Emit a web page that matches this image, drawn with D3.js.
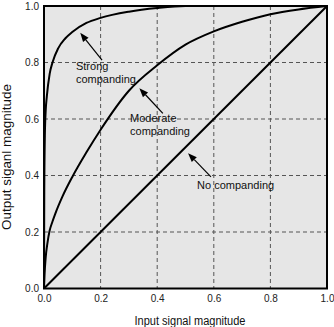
<!DOCTYPE html>
<html><head><meta charset="utf-8">
<script src="https://cdn.jsdelivr.net/npm/d3@7"></script>
<style>body{margin:0;background:#fff}svg{display:block}text{font-family:"Liberation Sans",Arial,sans-serif}</style>
</head><body>
<script>
const strongX = [0,0.001,0.003,0.006,0.01,0.02,0.03,0.05,0.075,0.1,0.15,0.2,0.3,0.4,0.5,0.7,1.0];
const strongY = [0,0.35,0.54,0.63,0.68,0.76,0.80,0.85,0.885,0.908,0.94,0.958,0.98,0.993,1.0,1.0,1.0];
const moderateX = [0,0.002,0.006,0.012,0.02,0.03,0.04,0.065,0.1,0.15,0.2,0.3,0.4,0.5,0.6,0.7,0.8,0.9,1.0];
const moderateY = [0,0.05,0.11,0.16,0.205,0.237,0.265,0.325,0.395,0.482,0.562,0.7,0.79,0.863,0.91,0.944,0.971,0.988,1.0];
const noneX = [0,1];
const noneY = [0,1];
const ticks = [0,0.2,0.4,0.6,0.8,1.0];
const tickLabels = ["0.0","0.2","0.4","0.6","0.8","1.0"];
const labels = [
  {lines:["Strong","companding"], at:[0.113,0.775], tip:[0.128,0.905], tail:[0.205,0.808]},
  {lines:["Moderate","companding"], at:[0.304,0.59], tip:[0.337,0.709], tail:[0.42,0.62]},
  {lines:["No companding"], at:[0.541,0.352], tip:[0.509,0.479], tail:[0.59,0.395]}
];

const W=334,H=327, L=44, R=327, T=6, B=288.5;
const svg=d3.select("body").append("svg").attr("width",W).attr("height",H);
const x=d3.scaleLinear().domain([0,1]).range([L,R]);
const y=d3.scaleLinear().domain([0,1]).range([B,T]);

svg.append("rect").attr("x",L).attr("y",T).attr("width",R-L).attr("height",B-T).attr("fill","#e6e6e6");
svg.append("clipPath").attr("id","c").append("rect").attr("x",L).attr("y",T).attr("width",R-L).attr("height",B-T);

const g=svg.append("g");
ticks.slice(1,-1).forEach(t=>{
  g.append("line").attr("x1",x(t)).attr("x2",x(t)).attr("y1",T).attr("y2",B)
   .attr("stroke","#555").attr("stroke-width",1).attr("stroke-dasharray","4,3");
  g.append("line").attr("y1",y(t)).attr("y2",y(t)).attr("x1",L).attr("x2",R)
   .attr("stroke","#555").attr("stroke-width",1).attr("stroke-dasharray","4,3");
});

const line=d3.line().x(d=>x(d[0])).y(d=>y(d[1])).curve(d3.curveMonotoneX);
const curves=[[strongX,strongY],[moderateX,moderateY],[noneX,noneY]];
const cg=svg.append("g").attr("clip-path","url(#c)");
curves.forEach(([xs,ys])=>{
  cg.append("path").datum(xs.map((v,i)=>[v,ys[i]])).attr("d",line)
    .attr("fill","none").attr("stroke","#000").attr("stroke-width",2);
});

svg.append("rect").attr("x",L).attr("y",T).attr("width",R-L).attr("height",B-T)
  .attr("fill","none").attr("stroke","#000").attr("stroke-width",2);

const xa=d3.axisBottom(x).tickValues(ticks).tickFormat((d,i)=>tickLabels[i]).tickSize(0).tickPadding(6);
const ya=d3.axisLeft(y).tickValues(ticks).tickFormat((d,i)=>tickLabels[i]).tickSize(0).tickPadding(5);
const gx=svg.append("g").attr("transform",`translate(0,${B})`).call(xa);
const gy=svg.append("g").attr("transform",`translate(${L},0)`).call(ya);
[gx,gy].forEach(a=>{a.select(".domain").remove();a.selectAll("text").attr("font-size",10).attr("fill","#222").attr("font-family","Liberation Sans, Arial, sans-serif");});

svg.append("text").attr("x",190).attr("y",325).attr("text-anchor","middle").attr("font-size",12)
  .attr("textLength",111).attr("lengthAdjust","spacingAndGlyphs").attr("fill","#111").text("Input signal magnitude");
svg.append("text").attr("transform",`translate(11,157) rotate(-90)`).attr("text-anchor","middle").attr("font-size",12)
  .attr("textLength",146).attr("lengthAdjust","spacingAndGlyphs").attr("fill","#111").text("Output siganl magnitude");

labels.forEach(lb=>{
  const t=svg.append("text").attr("font-size",11).attr("fill","#111");
  lb.lines.forEach((s,i)=>t.append("tspan").attr("x",x(lb.at[0])).attr("y",y(lb.at[1])+i*13.5).text(s));
  const x1=x(lb.tail[0]),y1=y(lb.tail[1]),x2=x(lb.tip[0]),y2=y(lb.tip[1]);
  const ang=Math.atan2(y2-y1,x2-x1), hl=9, hw=3.5;
  const bx=x2-hl*Math.cos(ang), by=y2-hl*Math.sin(ang);
  svg.append("line").attr("x1",x1).attr("y1",y1).attr("x2",bx).attr("y2",by).attr("stroke","#000").attr("stroke-width",1.2);
  const px=-Math.sin(ang)*hw, py=Math.cos(ang)*hw;
  svg.append("path").attr("d",`M${x2},${y2}L${bx+px},${by+py}L${bx-px},${by-py}Z`).attr("fill","#000");
});
</script>
</body></html>
